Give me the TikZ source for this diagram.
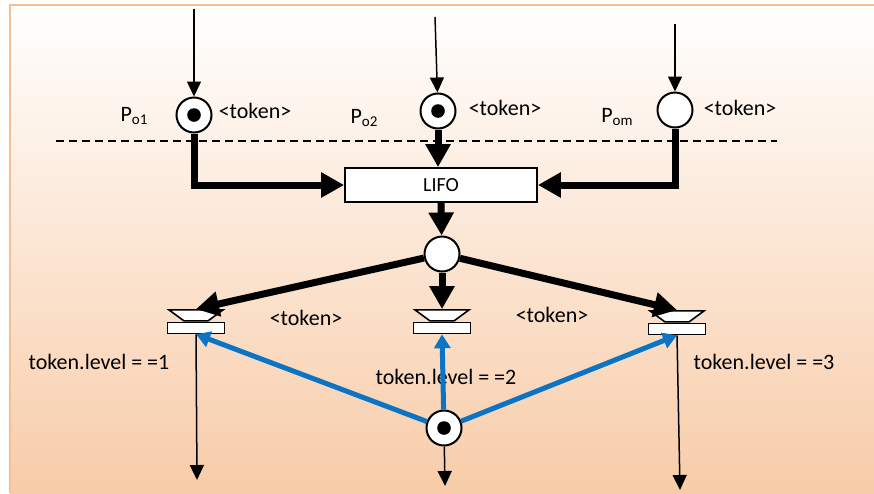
\documentclass[tikz,border=0pt]{standalone}
\usepackage{fontspec}
\setmainfont{Carlito}
\usepackage{tikz}
\usetikzlibrary{arrows.meta,positioning,shapes.geometric}
\definecolor{peach}{HTML}{F8CCA8}
\definecolor{rim}{HTML}{F6BE94}
\definecolor{netblue}{HTML}{0B74C4}
\newcommand{\sub}[2]{#1\raisebox{-3pt}{\fontsize{15}{18}\selectfont #2}}

\begin{document}
\begin{tikzpicture}[x=1pt,y=-1pt,
  place/.style={draw,circle,line width=2pt,fill=white,minimum size=35pt,inner sep=0pt},
  bar/.style={draw,rectangle,line width=1.6pt,fill=white,minimum width=57pt,
              minimum height=11pt,inner sep=0pt},
  cup/.style={draw,trapezium,shape border rotate=180,trapezium stretches=true,
              trapezium angle=58,minimum width=54pt,minimum height=11pt,
              line width=1.6pt,fill=white,inner sep=1pt,anchor=south},
  queue/.style={draw,rectangle,line width=1.8pt,fill=white,minimum width=192pt,
                minimum height=34pt,font=\fontsize{20}{24}\selectfont},
  lbl/.style={font=\fontsize{22}{26}\selectfont,inner sep=0pt},
  fat/.style={line width=7pt,-{Triangle[length=23pt,width=24pt]}},
  slim/.style={line width=1.5pt,-{Triangle[length=15pt,width=14pt]}},
  blu/.style={netblue,line width=5pt,-{Triangle[length=14pt,width=16pt]}}
]
\useasboundingbox (0,0) rectangle (874,493);
% Background frame
\shade[top color=white,bottom color=peach] (10,5) rectangle (874,493);
\draw[rim,line width=2.5pt] (10,493) -- (10,5) -- (874,5);
% Boundary line
\coordinate (dl) at (56,141);
\coordinate (dr) at (777,141);
\draw[dashed,line width=1.2pt,dash pattern=on 8pt off 5pt] (dl) -- (dr);
% Output places
\node[place] (po1) at (194,115) {};
\node[place] (po2) at (438,111) {};
\node[place] (pom) at (675,110) {};
\node[lbl] (npo1) at (134,116) {\sub{P}{o1}};
\node[lbl] (npo2) at (364,118) {\sub{P}{o2}};
\node[lbl] (npom) at (617,117) {\sub{P}{om}};
\node[lbl] (tk1) at (255,111) {<token>};
\node[lbl] (tk2) at (505,108) {<token>};
\node[lbl] (tk3) at (740,108) {<token>};
% Queue and selection
\node[queue] (lifo) at (441,185) {LIFO};
\node[place] (m) at (442,254) {};
\node[bar] (t1) at (196,328) {};
\node[bar] (t2) at (442,328) {};
\node[bar] (t3) at (677,329) {};
\node[cup] (t1top) at (t1.north) {};
\node[cup] (t2top) at (t2.north) {};
\node[cup] (t3top) at (t3.north) {};
\node[lbl] (tk4) at (306,318) {<token>};
\node[lbl] (tk5) at (552,315) {<token>};
\node[lbl] (lv1) at (99,362) {token.level = =1};
\node[lbl] (lv2) at (446,377) {token.level = =2};
\node[lbl] (lv3) at (764,362) {token.level = =3};
\node[place] (b) at (444,428) {};
% Tokens
\fill (po1.center) circle (6.8pt);
\fill (po2.center) circle (6.8pt);
\fill (b.center) circle (6.8pt);
% Inputs and outputs
\coordinate (in1) at (194,9);
\coordinate (in2) at (435,17);
\coordinate (in3) at (675,24);
\coordinate (out1) at (197,480);
\coordinate (out2) at (445,486);
\coordinate (out3) at (680,490);
\draw[slim] (in1) -- (po1);
\draw[slim] (in2) -- (po2);
\draw[slim] (in3) -- (pom);
\draw[slim] (t1.south) -- (out1);
\draw[slim] (b) -- (out2);
\draw[slim] (t3.south) -- (out3);
% Thick arcs
\draw[fat] (po1.south) |- (lifo.west);
\draw[fat] (pom.south) |- (lifo.east);
\draw[fat] (po2.south) -- (po2.south |- lifo.north);
\draw[fat] (lifo.south) -- (m);
\draw[fat] (m) -- (t1top.north);
\draw[fat] (m) -- (t2top.north);
\draw[fat] (m) -- (t3top.north);
% Level tests
\draw[blu] (b) -- (t1.south);
\draw[blu] (b) -- (t2.south);
\draw[blu] (b) -- (t3.south);
\end{tikzpicture}
\end{document}
